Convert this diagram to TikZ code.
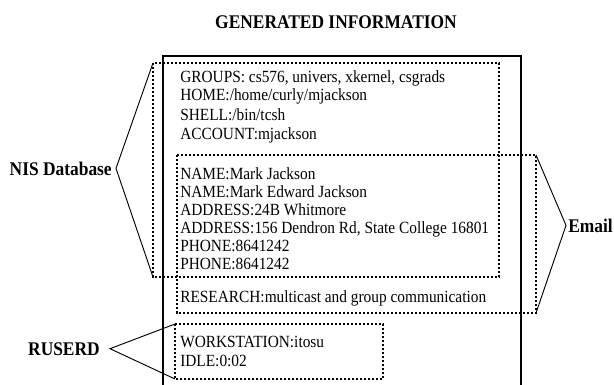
\documentclass[tikz,border=0pt]{standalone}
\usepackage{fontspec}
\setmainfont[FakeStretch=0.9]{Liberation Serif}
\usetikzlibrary{positioning,calc}

\begin{document}
\begin{tikzpicture}[x=0.75pt, y=-0.75pt,
		Line/.style={
			font=\fontsize{12.8}{14}\selectfont,
			anchor=base west,
			inner sep=0pt
		},
		Label/.style={
			font=\fontsize{14.5}{16}\selectfont\bfseries,
			inner sep=0pt
		},
		DotBox/.style={line width=1.5pt, dash pattern=on 1.8pt off 1.2pt},
		Brace/.style={line width=0.7pt, line join=miter}]
		\useasboundingbox (0,0) rectangle (614,385);
		\node[Label, anchor=base] (title) at (336,29) {GENERATED INFORMATION};
		% outer frame (runs off the bottom)
		\coordinate (frameNW) at (163,56);
		\coordinate (frameNE) at (521,56);
		\draw[line width=1.5pt] (frameNW |- 0,386) -- (frameNW) -- (frameNE) -- (frameNE |- 0,386);
		% text lines
		\node[Line] (groups) at (180,83) {GROUPS: cs576, univers, xkernel, csgrads};
		\node[Line] (home) at (180,101) {HOME:/home/curly/mjackson};
		\node[Line] (shell) at (180,120) {SHELL:/bin/tcsh};
		\node[Line] (account) at (180,139) {ACCOUNT:mjackson};
		\node[Line] (name1) at (180,179) {NAME:Mark Jackson};
		\node[Line] (name2) at (180,197) {NAME:Mark Edward Jackson};
		\node[Line] (addr1) at (180,215) {ADDRESS:24B Whitmore};
		\node[Line] (addr2) at (180,233) {ADDRESS:156 Dendron Rd, State College 16801};
		\node[Line] (phone1) at (180,251) {PHONE:8641242};
		\node[Line] (phone2) at (180,269) {PHONE:8641242};
		\node[Line] (research) at (180,302) {RESEARCH:multicast and group communication};
		\node[Line] (station) at (180,347) {WORKSTATION:itosu};
		\node[Line] (idle) at (180,366) {IDLE:0:02};
		% dotted groups
		\coordinate (nisNW) at (153,63);
		\coordinate (nisSE) at (499,277);
		\coordinate (mailNW) at (177,155);
		\coordinate (mailSE) at (536,313);
		\coordinate (rusNW) at (175,324);
		\coordinate (rusSE) at (383,379);
		\draw[DotBox] (nisNW) rectangle (nisSE);
		\draw[DotBox] (mailNW) rectangle (mailSE);
		\draw[DotBox] (rusNW) rectangle (rusSE);
		% side labels
		\node[Label, anchor=base east] (nis) at (112,175) {NIS Database};
		\node[Label, anchor=base west] (email) at (568,232) {Email};
		\node[Label, anchor=base east] (ruserd) at (100,355) {RUSERD};
		\draw[Brace] (nisNW) -- ([xshift=3pt]nis.east) -- (nisNW |- nisSE);
		\draw[Brace] (mailNW -| mailSE) -- ([xshift=-1.5pt]email.west) -- (mailSE);
		\draw[Brace] (rusNW) -- ([xshift=7.5pt]ruserd.east) -- (rusNW |- rusSE);
	\end{tikzpicture}
\end{document}
